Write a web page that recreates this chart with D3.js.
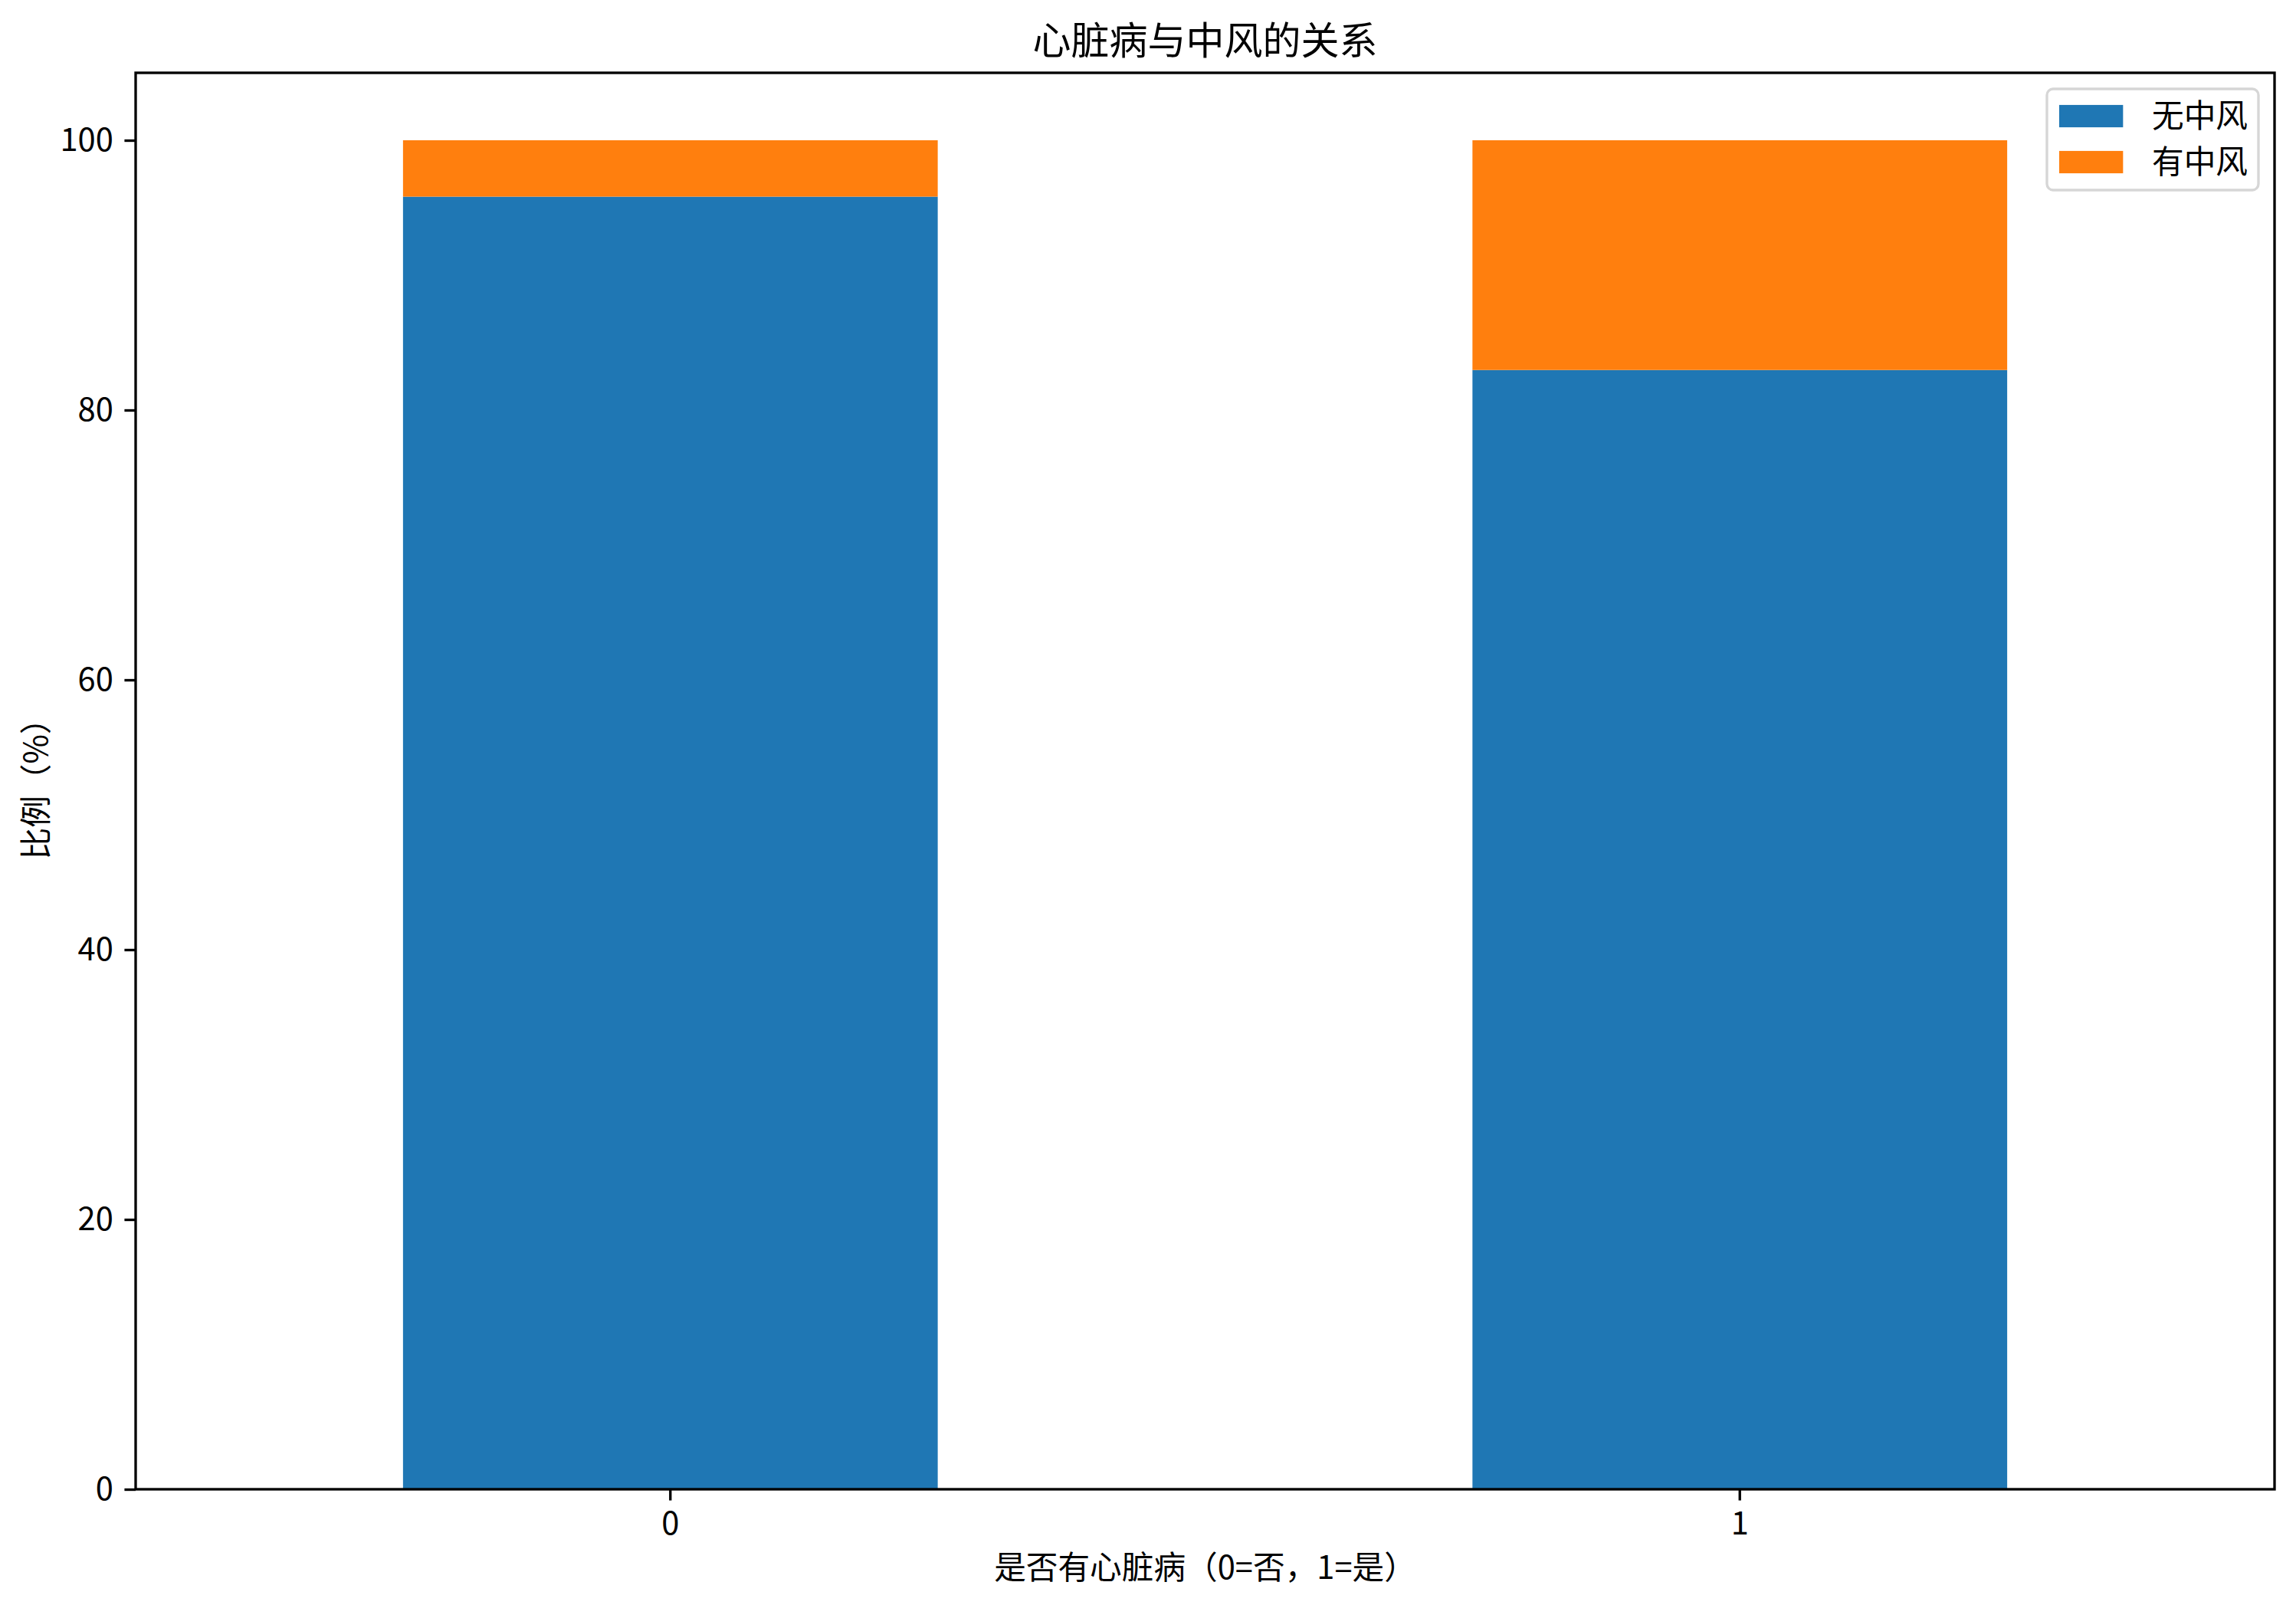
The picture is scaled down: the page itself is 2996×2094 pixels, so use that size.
<!DOCTYPE html>
<html>
<head>
<meta charset="utf-8">
<script src="https://cdn.jsdelivr.net/npm/d3@7"></script>
<style>
  body { margin: 0; background: #fff; }
  text { font-family: "Noto Sans CJK SC", "DejaVu Sans", sans-serif; fill: #000; }
</style>
</head>
<body>
<div class="container"></div>
<script>
const categories = ["0", "1"];
const seriesNames = ["无中风", "有中风"];
const noStroke = [95.82, 82.97];
const withStroke = [4.18, 17.03];
const yTicks = [0, 20, 40, 60, 80, 100];
const colors = ["#1f77b4", "#ff7f0e"];

const width = 2996;
const height = 2094;
const margin = {top: 95, right: 28, bottom: 151, left: 177};
const innerW = width - margin.left - margin.right;
const innerH = height - margin.top - margin.bottom;
const px = 300 / 72; // matplotlib points at 300 dpi

const rows = categories.map((c, i) => ({cat: c, [seriesNames[0]]: noStroke[i], [seriesNames[1]]: withStroke[i]}));
const stacked = d3.stack().keys(seriesNames)(rows);

const x = d3.scaleBand()
    .domain(categories)
    .range([0, innerW])
    .paddingInner(0.5)
    .paddingOuter(0.25);

const y = d3.scaleLinear()
    .domain([0, 105])
    .range([innerH, 0]);

const color = d3.scaleOrdinal().domain(seriesNames).range(colors);

const svg = d3.select(".container")
  .append("svg")
    .attr("width", width)
    .attr("height", height)
    .style("display", "block");

const g = svg.append("g")
    .attr("transform", `translate(${margin.left},${margin.top})`);

// bars
g.append("g")
  .selectAll("g")
  .data(stacked)
  .join("g")
    .attr("fill", d => color(d.key))
  .selectAll("rect")
  .data(d => d)
  .join("rect")
    .attr("x", d => x(d.data.cat))
    .attr("y", d => y(d[1]))
    .attr("width", x.bandwidth())
    .attr("height", d => y(d[0]) - y(d[1]));

// axes
const xAxis = g.append("g")
    .attr("transform", `translate(0,${innerH})`)
    .call(d3.axisBottom(x).tickSize(3.5 * px).tickPadding(3.5 * px));

const yAxis = g.append("g")
    .call(d3.axisLeft(y).tickValues(yTicks).tickSize(3.5 * px).tickPadding(3.5 * px));

[xAxis, yAxis].forEach(a => {
  a.select(".domain").remove();
  a.selectAll(".tick line").attr("stroke", "#000").attr("stroke-width", 0.8 * px);
  a.selectAll(".tick text")
    .style("font-size", `${10 * px}px`)
    .style("font-family", "\"Noto Sans CJK SC\", sans-serif");
});

// frame
g.append("rect")
    .attr("width", innerW)
    .attr("height", innerH)
    .attr("fill", "none")
    .attr("stroke", "#000")
    .attr("stroke-width", 0.8 * px);

// title and labels
svg.append("text")
    .attr("x", margin.left + innerW / 2)
    .attr("y", 53)
    .attr("dy", "0.35em")
    .attr("text-anchor", "middle")
    .style("font-size", `${12 * px}px`)
    .text("心脏病与中风的关系");

svg.append("text")
    .attr("x", margin.left + innerW / 2)
    .attr("y", 2045)
    .attr("dy", "0.35em")
    .attr("text-anchor", "middle")
    .style("font-size", `${10 * px}px`)
    .text("是否有心脏病（0=否，1=是）");

svg.append("text")
    .attr("transform", `translate(47,${margin.top + innerH / 2}) rotate(-90)`)
    .attr("dy", "0.35em")
    .attr("text-anchor", "middle")
    .style("font-size", `${10 * px}px`)
    .text("比例（%）");

// legend
const fs = 10 * px;
const legend = svg.append("g")
    .attr("transform", `translate(2671,116)`);

legend.append("rect")
    .attr("width", 276)
    .attr("height", 132)
    .attr("rx", 8)
    .attr("fill", "#fff")
    .attr("fill-opacity", 0.8)
    .attr("stroke", "#d6d6d6")
    .attr("stroke-width", 0.8 * px);

const item = legend.selectAll("g.item")
  .data(seriesNames)
  .join("g")
    .attr("class", "item")
    .attr("transform", (d, i) => `translate(0,${35.5 + i * 60})`);

item.append("rect")
    .attr("x", 16)
    .attr("y", -0.35 * fs)
    .attr("width", 2 * fs)
    .attr("height", 0.7 * fs)
    .attr("fill", d => color(d));

item.append("text")
    .attr("x", 137)
    .attr("dy", "0.35em")
    .style("font-size", `${fs}px`)
    .text(d => d);
</script>
</body>
</html>
